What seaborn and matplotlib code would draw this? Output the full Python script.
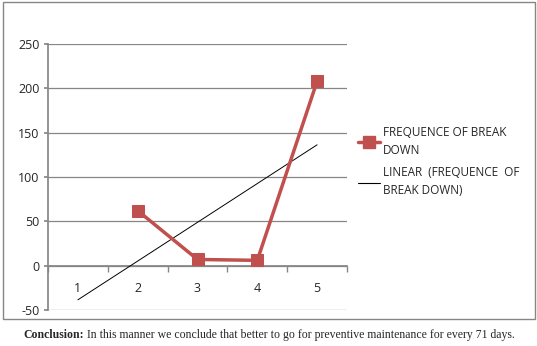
import numpy as np
import pandas as pd
import matplotlib
matplotlib.use("Agg")
import matplotlib.pyplot as plt
from matplotlib.patches import Rectangle
from matplotlib.lines import Line2D
import seaborn as sns

# chart values
categories = [1, 2, 3, 4, 5]
breakdowns = [np.nan, 62, 7, 6, 208]   # no value plotted for category 1
y_ticks = [-50, 0, 50, 100, 150, 200, 250]

df = pd.DataFrame({"period": categories, "freq": breakdowns})

sns.set_theme(style="white")
plt.rcParams['font.family'] = ['Open Sans', 'DejaVu Sans']
plt.rcParams['axes.unicode_minus'] = False

fig = plt.figure(figsize=(5.37, 3.46), dpi=100)
ax = fig.add_axes([48 / 537, 36 / 346, 299 / 537, 266 / 346])

# linear trendline (least squares over the available points), drawn over all categories
known = df.dropna()
slope, intercept = np.polyfit(known["period"], known["freq"], 1)
trend = pd.DataFrame({"period": categories, "trend": [slope * c + intercept for c in categories]})
sns.lineplot(data=trend, x="period", y="trend", ax=ax, color="black", linewidth=0.7, zorder=3)

sns.lineplot(data=known, x="period", y="freq", ax=ax, color="#C0504D", linewidth=2.5,
             marker="s", markersize=8.5, markeredgecolor="#C0504D", zorder=4)

ax.set_xlim(0.5, 5.5)
ax.set_ylim(-50, 250)
ax.set_yticks(y_ticks)
ax.set_xticks(categories)
ax.set_xticks([0.5, 1.5, 2.5, 3.5, 4.5, 5.5], minor=True)
ax.set_xlabel("")
ax.set_ylabel("")
ax.yaxis.grid(True, color="#868686", linewidth=0.9)
ax.set_axisbelow(True)

for side in ["top", "right"]:
    ax.spines[side].set_visible(False)
ax.spines["left"].set_color("#868686")
ax.spines["bottom"].set_color("#868686")
ax.spines["bottom"].set_position(("data", 0))

ax.tick_params(axis="y", left=True, length=3, color="#868686", labelsize=9, pad=3)
ax.tick_params(axis="x", which="major", length=0, labelsize=9, pad=12)
ax.tick_params(axis="x", which="minor", bottom=True, length=4, color="#868686", direction="out")

handles = [
    Line2D([], [], color="#C0504D", linewidth=2.5, marker="s", markersize=8.5),
    Line2D([], [], color="black", linewidth=0.8),
]
labels = ["FREQUENCE OF BREAK\nDOWN", "LINEAR  (FREQUENCE  OF\nBREAK DOWN)"]
legend = ax.legend(handles, labels, loc="upper left", bbox_to_anchor=(352 / 537, 226 / 346),
                   bbox_transform=fig.transFigure, frameon=False, fontsize=8.5,
                   handlelength=1.9, handletextpad=0.2, labelspacing=0.8, borderpad=0)
for txt in legend.get_texts():
    txt.set_linespacing(1.5)

# outer chart border
fig.patches.append(Rectangle((3 / 537, 27 / 346), 532 / 537, 317 / 346, transform=fig.transFigure,
                             fill=False, edgecolor="#868686", linewidth=1))

t1 = fig.text(23 / 537, 11 / 346, "Conclusion:", fontsize=8.5, fontweight="bold",
              family="Liberation Serif", va="center", ha="left")
ax.annotate(" In this manner we conclude that better to go for preventive maintenance for every 71 days.",
            xy=(1, 0.5), xycoords=t1, va="center", ha="left", fontsize=8.5,
            family="Liberation Serif", annotation_clip=False)

fig.savefig("out.png", dpi=100)
